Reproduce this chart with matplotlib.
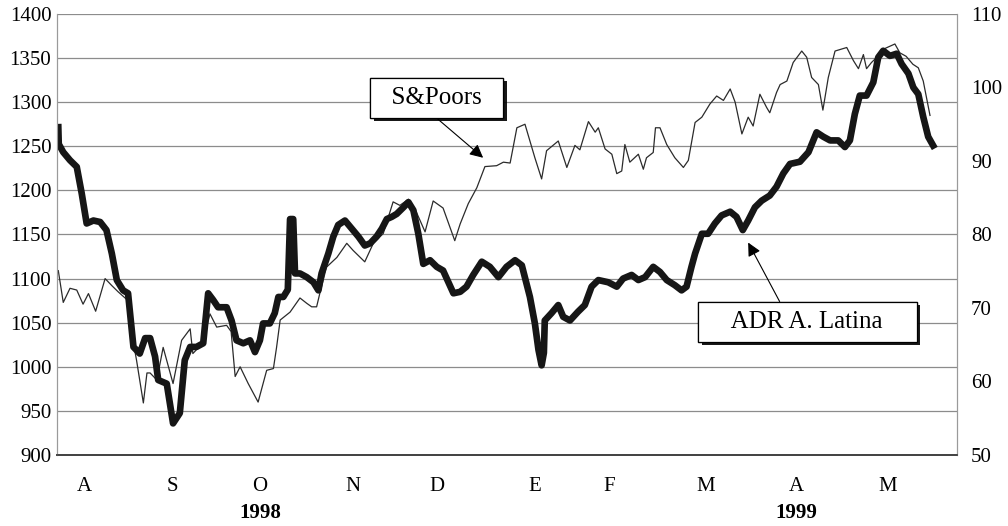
import matplotlib
matplotlib.use('agg')
import matplotlib.pyplot as plt
import matplotlib.patheffects as pe

# eje x: dias habiles aprox. (0 = inicio agosto 1998)
sp_t = [0.3, 1.4, 2.9, 4.4, 5.8, 7.0, 8.6, 10.7, 12.2, 13.6, 14.7, 15.8, 16.9, 17.7, 19.2,
        20.0, 20.7, 22.2, 23.6, 25.8, 27.7, 29.6, 30.2, 32.4, 34.0, 35.5, 37.7, 38.7, 39.6,
        40.7, 42.5, 44.7, 46.6, 48.1, 48.8, 49.6, 51.8, 54.0, 55.5, 56.6, 57.7, 58.4, 59.9,
        62.2, 64.4, 65.8, 68.4, 70.3, 72.5, 74.7, 76.2, 78.1, 79.9, 81.8, 83.6, 85.8, 88.4,
        89.6, 91.4, 93.3, 95.1, 97.7, 99.2, 100.7, 102.2, 104.0, 106.2, 107.7, 108.8, 111.4,
        113.3, 115.1, 116.2, 118.1, 119.6, 120.3, 121.8, 123.3, 124.4, 125.5, 126.2, 127.3,
        129.2, 130.3, 131.0, 132.5, 133.0, 134.0, 135.5, 137.3, 139.2, 140.3, 141.8, 143.3,
        145.1, 146.6, 148.1, 149.6, 150.7, 152.2, 153.6, 154.7, 156.2, 157.7, 158.4, 159.9,
        160.7, 162.2, 163.6, 165.5, 166.6, 167.7, 169.2, 170.2, 171.4, 172.9, 175.5, 177.0,
        178.1, 179.2, 179.9, 181.0, 182.2, 183.6, 186.2, 187.3, 188.7, 190.2, 191.4, 192.5,
        194.0]
sp_val = [1109, 1073, 1089, 1087, 1071, 1083, 1063, 1100, 1092, 1085, 1080, 1075, 1030, 1007, 959,
          993, 993, 985, 1022, 981, 1030, 1043, 1015, 1027, 1060, 1045, 1047, 1040, 989,
          1000, 981, 960, 996, 998, 1022, 1053, 1062, 1078, 1072, 1068, 1068, 1083, 1113,
          1124, 1140, 1132, 1119, 1140, 1151, 1187, 1183, 1190, 1175, 1153, 1188, 1180, 1143,
          1162, 1185, 1203, 1227, 1228, 1232, 1231, 1271, 1275, 1237, 1213, 1245, 1256,
          1226, 1251, 1246, 1278, 1266, 1271, 1247, 1241, 1219, 1222, 1252, 1232,
          1241, 1224, 1237, 1243, 1271, 1271, 1252, 1237, 1226, 1234, 1277, 1283,
          1298, 1307, 1302, 1315, 1300, 1264, 1283, 1273, 1309, 1294, 1288, 1311,
          1320, 1324, 1345, 1358, 1351, 1328, 1320, 1291, 1328, 1358, 1362, 1347,
          1338, 1354, 1338, 1345, 1351, 1360, 1366, 1356, 1352, 1343, 1339, 1324,
          1285]

adr_t = [0.3, 0.4, 1.4, 2.9, 4.4, 5.5, 6.6, 8.1, 9.6, 11.0, 12.2, 13.3, 14.7, 15.8, 17.0,
         18.4, 19.6, 20.7, 21.8, 22.5, 24.4, 25.8, 27.3, 28.4, 29.6, 31.0, 32.5, 33.6, 34.7,
         35.8, 37.7, 38.8, 39.9, 41.4, 42.9, 44.0, 45.1, 45.8, 47.3, 48.4, 49.2, 50.3, 51.3,
         51.8, 52.5, 52.9, 54.0, 55.5, 57.0, 58.1, 58.8, 60.3, 61.4, 62.5, 64.0, 65.5, 67.0,
         68.4, 69.6, 71.0, 72.2, 73.3, 74.4, 75.5, 77.0, 78.1, 79.2, 80.3, 81.4, 82.9, 84.4,
         85.8, 87.0, 88.1, 89.6, 91.0, 92.5, 94.4, 96.2, 98.1, 99.9, 101.8, 103.3, 105.1,
         106.2, 107.0, 107.7, 108.2, 108.4, 109.9, 111.4, 112.5, 114.0, 115.8, 117.3, 118.8,
         120.3, 122.5, 124.4, 125.8, 127.7, 129.2, 130.7, 132.5, 134.0, 135.5, 137.3, 138.8,
         139.9, 141.0, 141.8, 143.3, 144.7, 146.2, 147.7, 149.6, 151.0, 152.4, 153.6, 155.1,
         156.6, 158.4, 159.9, 161.4, 162.9, 165.1, 167.0, 168.8, 170.3, 171.8, 173.6, 175.1,
         176.2, 177.3, 178.4, 179.9, 181.4, 182.5, 183.6, 185.1, 186.6, 187.7, 189.2, 190.3,
         191.4, 192.5, 193.6, 194.7]
adr_val = [94.6, 92.3, 91.2, 90.1, 89.2, 85.6, 81.5, 81.9, 81.7, 80.6, 77.4, 73.8, 72.4, 72.0, 64.7,
           63.8, 65.9, 65.9, 63.4, 60.2, 59.7, 54.3, 55.7, 62.9, 64.7, 64.7, 65.2, 72.0, 71.1,
           70.1, 70.1, 68.3, 65.6, 65.2, 65.6, 64.0, 65.6, 67.9, 67.9, 69.3, 71.5, 71.5, 72.5,
           82.1, 82.1, 74.7, 74.7, 74.2, 73.5, 72.4, 74.7, 77.4, 79.7, 81.3, 81.9, 80.8, 79.7,
           78.5, 78.8, 79.7, 80.8, 82.1, 82.4, 82.8, 83.7, 84.4, 83.3, 80.1, 76.0, 76.5, 75.6,
           75.1, 73.5, 72.0, 72.2, 72.9, 74.5, 76.3, 75.6, 74.2, 75.6, 76.5, 75.8, 71.5,
           67.9, 64.3, 62.2, 63.9, 68.3, 69.3, 70.4, 68.8, 68.3, 69.5, 70.4, 72.9,
           73.8, 73.5, 72.9, 74.0, 74.5, 73.8, 74.2, 75.6, 74.9, 73.8, 73.1, 72.4,
           72.9, 75.6, 77.4, 80.1, 80.1, 81.5, 82.6, 83.1, 82.4, 80.6, 81.9, 83.7,
           84.6, 85.3, 86.5, 88.3, 89.6, 89.9, 91.2, 93.9, 93.3, 92.8, 92.8, 91.9,
           92.8, 96.4, 98.9, 98.9, 100.7, 104.1, 105.0, 104.3, 104.6, 103.2, 101.9, 100.0,
           99.1, 96.0, 93.3, 92.1]

meses = ['A', 'S', 'O', 'N', 'D', 'E', 'F', 'M', 'A', 'M']
meses_pos = [6.0, 25.6, 45.1, 65.8, 84.4, 106.2, 122.7, 144.2, 164.4, 184.7]
anios = ['1998', '1999']
anios_pos = [45.1, 164.4]

plt.rcParams['font.family'] = ['Liberation Serif', 'DejaVu Serif']

fig = plt.figure(figsize=(10.08, 5.26), dpi=100)
ax = fig.add_axes([0.0565, 0.135, 0.8929, 0.8384])
ax2 = ax.twinx()

ax.set_xlim(0, 200)
ax.set_ylim(900, 1400)
ax2.set_ylim(50, 110)
ax.set_yticks(range(900, 1401, 50))
ax2.set_yticks(range(50, 111, 10))
ax.grid(axis='y', color='#8c8c8c', lw=0.9)
ax.set_axisbelow(True)

ax.plot(sp_t, sp_val, color='#2b2b2b', lw=0.9)
ax2.plot(adr_t, adr_val, color='#161616', lw=4.8, solid_joinstyle='round')

ax.set_xticks(meses_pos)
ax.set_xticklabels(meses)
ax.tick_params(axis='x', length=0, pad=16, labelsize=15)
ax.tick_params(axis='y', length=0, pad=4, labelsize=15)
ax2.tick_params(axis='y', length=0, pad=10, labelsize=15)

for a in (ax, ax2):
    for s in ['top', 'left', 'right']:
        a.spines[s].set_color('#9a9a9a')
        a.spines[s].set_linewidth(0.8)
    a.spines['top'].set_visible(False)
    a.spines['bottom'].set_color('#444444')
    a.spines['bottom'].set_linewidth(1.3)

for nom, x in zip(anios, anios_pos):
    ax.text(x, -0.131, nom, transform=ax.get_xaxis_transform(), ha='center', va='center',
            fontsize=15, fontweight='bold')

sombra = [pe.withSimplePatchShadow(offset=(2.5, -2.5), shadow_rgbFace='black', alpha=0.9), pe.Normal()]
flecha = dict(arrowstyle='-|>', color='black', lw=0.8, mutation_scale=20, shrinkA=0, shrinkB=0)

t1 = ax.annotate('  S&Poors  ', xy=(94.7, 1237), xytext=(0.422, 0.8095), textcoords='axes fraction',
                 ha='center', va='center', fontsize=18,
                 bbox=dict(boxstyle='square,pad=0.36', fc='white', ec='black', lw=0.9),
                 arrowprops=dict(flecha, relpos=(0.295, 0.5)))
t1.get_bbox_patch().set_path_effects(sombra)

t2 = ax2.annotate('    ADR A. Latina    ', xy=(153.6, 78.9), xytext=(0.834, 0.3016), textcoords='axes fraction',
                  ha='center', va='center', fontsize=18,
                  bbox=dict(boxstyle='square,pad=0.36', fc='white', ec='black', lw=0.9),
                  arrowprops=dict(flecha, relpos=(0.415, 0.5)))
t2.get_bbox_patch().set_path_effects(sombra)

fig.savefig('out.png', dpi=100)
